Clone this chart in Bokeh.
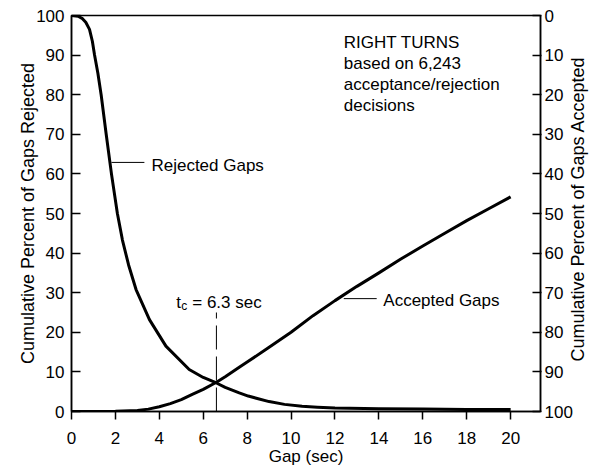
import math
from bokeh.plotting import figure
from bokeh.models import Range1d, LinearAxis, FixedTicker, Label
from bokeh.embed import file_html
from bokeh.resources import INLINE

# ---- data ----
x_ticks = [0, 2, 4, 6, 8, 10, 12, 14, 16, 18, 20]
rej_ticks = [0, 10, 20, 30, 40, 50, 60, 70, 80, 90, 100]
acc_ticks = [0, 10, 20, 30, 40, 50, 60, 70, 80, 90, 100]

# Rejected gaps: cumulative percent rejected (left axis)
gap_rej = [0, 0.3, 0.5, 0.65, 0.82, 0.95, 1.05, 1.2, 1.35, 1.58, 1.82, 2.09, 2.32,
           2.6, 2.94, 3.55, 4.3, 5.36, 6.0, 6.6, 7.0, 7.64, 8.05, 9, 9.7, 10.5,
           11.2, 12, 14, 16, 18, 20]
pct_rej = [100, 99.8, 99.2, 98.3, 96.5, 93.5, 90, 85.5, 80, 70, 60, 50, 43.3,
           37, 30.8, 23.2, 16.5, 10.6, 8.6, 7.2, 6.1, 4.7, 3.9, 2.5, 1.8, 1.3,
           1.1, 0.9, 0.7, 0.6, 0.5, 0.5]

# Accepted gaps: cumulative percent accepted (right axis, reversed)
gap_acc = [0, 1, 2, 3, 3.5, 4, 4.5, 5, 5.5, 6, 6.6, 7, 7.64, 8, 9, 10, 11, 12, 13,
           14, 15, 16, 17, 18, 19, 20]
pct_acc = [100, 100, 99.95, 99.75, 99.4, 98.8, 98.0, 97.0, 95.7, 94.4, 92.6, 91.2,
           88.8, 87.5, 83.8, 80.0, 75.8, 72.0, 68.4, 65.0, 61.5, 58.2, 55.0, 51.8,
           48.8, 45.8]

right_title = "Cumulative Percent of Gaps Accepted"
right_title_start = 87.4   # where the (upward-reading) right title begins

tc_gap = 6.6     # critical gap marker position
tc_top = 25      # top of dashed marker (left-axis units)

FONT = "Liberation Sans"

p = figure(width=601, height=470, output_backend="svg", toolbar_location=None,
           x_range=Range1d(0, 21.36), y_range=Range1d(0, 100),
           min_border_left=71, min_border_right=59, min_border_top=15,
           min_border_bottom=59)
p.extra_y_ranges = {"acc": Range1d(start=100, end=0)}
p.xgrid.visible = False
p.ygrid.visible = False
p.outline_line_color = "black"
p.outline_line_width = 1.5
p.background_fill_color = "white"
p.border_fill_color = "white"

# bottom axis
xa = p.xaxis[0]
xa.ticker = FixedTicker(ticks=x_ticks)
xa.major_tick_in = 0
xa.major_tick_out = 8
xa.major_label_standoff = 12
xa.axis_label = "Gap (sec)"
xa.axis_label_standoff = 0
xa.axis_label_text_font_size = "17px"
# left axis
ya = p.yaxis[0]
ya.ticker = FixedTicker(ticks=rej_ticks)
ya.major_tick_in = 9
ya.major_tick_out = 0
ya.major_label_standoff = 7
ya.axis_label = "Cumulative Percent of Gaps Rejected"
ya.axis_label_standoff = -5
ya.axis_label_text_font_size = "18px"
# right axis
ra = LinearAxis(y_range_name="acc", ticker=FixedTicker(ticks=acc_ticks))
ra.major_tick_in = 8
ra.major_tick_out = 1
ra.major_label_standoff = 3
p.add_layout(ra, "right")

for ax in (xa, ya, ra):
    ax.minor_tick_line_color = None
    ax.axis_line_color = "black"
    ax.axis_line_width = 1.5
    ax.major_tick_line_color = "black"
    ax.major_tick_line_width = 1.5
    ax.major_label_text_font = FONT
    ax.major_label_text_font_size = "17px"
    ax.major_label_text_color = "black"
    ax.axis_label_text_font = FONT
    ax.axis_label_text_font_style = "normal"
    ax.axis_label_text_color = "black"

# right-side title, reading bottom to top (carried by an outer, line-less axis)
rt = LinearAxis(y_range_name="acc", ticker=FixedTicker(ticks=[right_title_start]),
                major_label_overrides={right_title_start: right_title})
rt.axis_line_color = None
rt.major_tick_line_color = None
rt.minor_tick_line_color = None
rt.major_tick_in = 0
rt.major_tick_out = 0
rt.major_label_standoff = 3
rt.major_label_orientation = math.pi / 2
rt.major_label_text_font = FONT
rt.major_label_text_font_size = "18px"
rt.major_label_text_color = "black"
p.add_layout(rt, "right")

# curves
p.line(gap_rej, pct_rej, line_color="black", line_width=3, line_join="round")
p.line(gap_acc, pct_acc, y_range_name="acc", line_color="black", line_width=3,
       line_join="round")

# critical gap marker
p.line([tc_gap, tc_gap], [0, tc_top], line_color="black", line_width=1,
       line_dash="24 7")

# pointer lines
p.line([1.82, 3.32], [62.9, 62.9], line_color="black", line_width=1)
p.line([12.4, 13.9], [28.5, 28.5], line_color="black", line_width=1)

def lab(x, y, text, size="17px", align="left", baseline="alphabetic"):
    p.add_layout(Label(x=x, y=y, text=text, text_font=FONT, text_font_size=size,
                       text_color="black", text_align=align,
                       text_baseline=baseline))

lab(12.4, 93.1, "RIGHT TURNS")
lab(12.4, 87.8, "based on 6,243")
lab(12.4, 82.5, "acceptance/rejection")
lab(12.4, 77.2, "decisions")
lab(3.64, 62.2, "Rejected Gaps")
lab(14.2, 28.1, "Accepted Gaps")
lab(4.77, 27.6, "t")
lab(5.0, 26.7, "c", size="12px")
lab(5.5, 27.6, "= 6.3 sec")

open("out.html", "w").write(file_html(p, INLINE))
